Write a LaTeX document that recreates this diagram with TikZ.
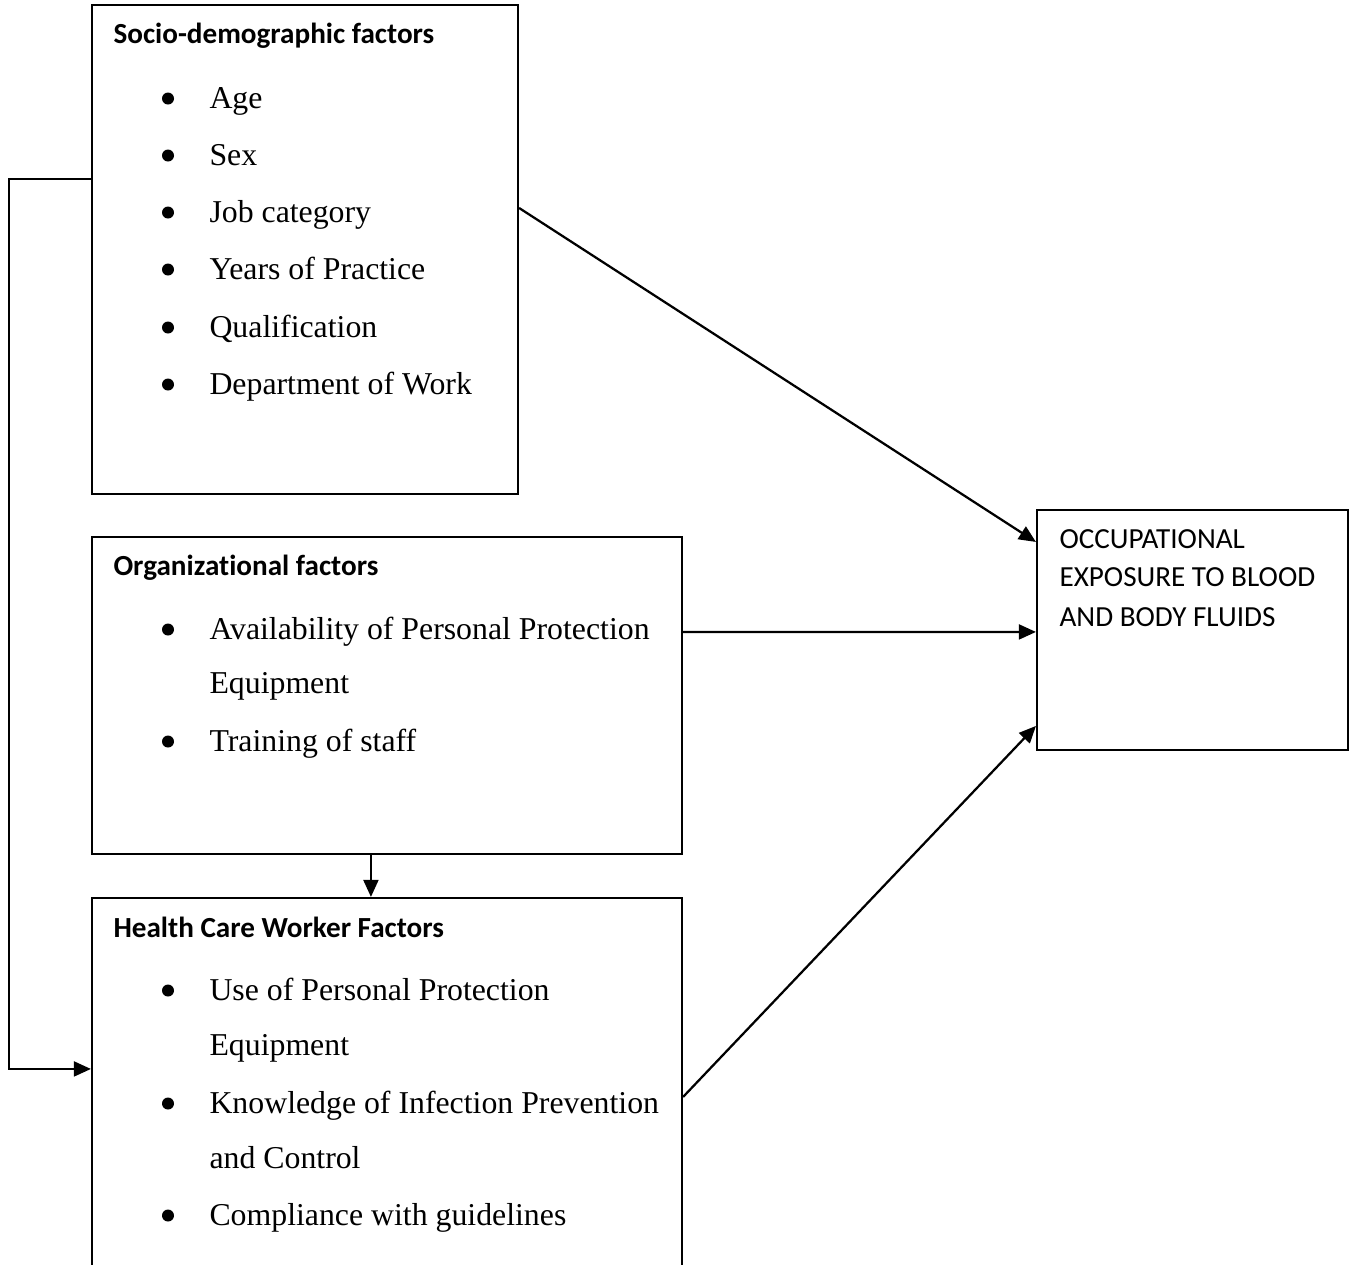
\documentclass[tikz,border=0pt]{standalone}
\usepackage{fontspec}
\setmainfont{Liberation Serif}
\newfontfamily\carlito[Ligatures=NoCommon]{Carlito}
\usetikzlibrary{fit,calc,arrows.meta}
\begin{document}
\begin{tikzpicture}[x=0.37736pt,y=-0.37736pt,
  boxstyle/.style={draw, line width=0.8pt, inner sep=0pt, rectangle},
  arr/.style={line width=0.85pt, -{Triangle[length=6.4pt,width=5.6pt]}},
  head/.style={anchor=base west, inner sep=0pt, font=\carlito\bfseries\fontsize{11pt}{13pt}\selectfont},
  item/.style={anchor=base west, inner sep=0pt, font=\fontsize{12pt}{14pt}\selectfont},
  outtxt/.style={anchor=base west, inner sep=0pt, font=\carlito\fontsize{11pt}{13pt}\selectfont}]
\useasboundingbox (0,0) rectangle (1350,1264);
\clip (0,0) rectangle (1350,1264);

% boxes
\node[boxstyle, fit={(92,5)(518,494)}] (socio) {};
\node[boxstyle, fit={(92,537)(682,854)}] (org) {};
\node[boxstyle, fit={(92,898)(682,1300)}] (hcw) {};
\node[boxstyle, fit={(1037,510)(1348,750)}] (out) {};

% socio-demographic
\node[head] (h1) at (113,43) {Socio-demographic factors};
\node[item] (s1) at (209,108) {Age};
\node[item] (s2) at (209,165) {Sex};
\node[item] (s3) at (209,222) {Job category};
\node[item] (s4) at (209,279) {Years of Practice};
\node[item] (s5) at (209,337) {Qualification};
\node[item] (s6) at (209,394) {Department of Work};
\foreach \yy in {108,165,222,279,337,394} \fill (168,\yy-9.5) circle (6);

% organizational
\node[head] (h2) at (113,575) {Organizational factors};
\node[item] (o1) at (209,639) {Availability of Personal Protection};
\node[item] (o2) at (209,693) {Equipment};
\node[item] (o3) at (209,751) {Training of staff};
\foreach \yy in {639,751} \fill (168,\yy-9.5) circle (6);

% health care worker
\node[head] (h3) at (113,937) {Health Care Worker Factors};
\node[item] (w1) at (209,1000) {Use of Personal Protection};
\node[item] (w2) at (209,1055) {Equipment};
\node[item] (w3) at (209,1113) {Knowledge of Infection Prevention};
\node[item] (w4) at (209,1168) {and Control};
\node[item] (w5) at (209,1225) {Compliance with guidelines};
\foreach \yy in {1000,1113,1225} \fill (168,\yy-9.5) circle (6);

% outcome
\node[outtxt] (t1) at (1059,548) {OCCUPATIONAL};
\node[outtxt] (t2) at (1059,586) {EXPOSURE TO BLOOD};
\node[outtxt] (t3) at (1059,626) {AND BODY FLUIDS};

% connectors
\draw[arr] ($(socio.north east)+(0,204)$) -- ($(out.north west)+(0,33)$);
\draw[arr] ($(org.north east)+(0,96)$) -- ($(out.north west)+(0,123)$);
\draw[arr] ($(hcw.north east)+(0,200)$) -- ($(out.north west)+(0,217)$);
\draw[arr] ($(org.south west)+(280,0)$) -- ($(hcw.north west)+(280,0)$);
\draw[arr] ($(socio.north west)+(0,175)$) -- ++(-82,0) |- ($(hcw.north west)+(0,172)$);
\end{tikzpicture}
\end{document}
